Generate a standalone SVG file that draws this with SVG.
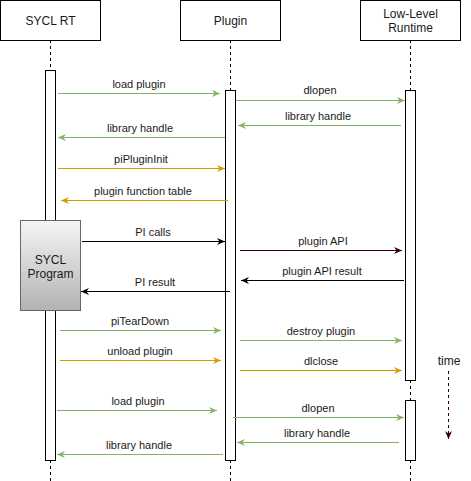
<svg xmlns="http://www.w3.org/2000/svg" width="471" height="481" viewBox="0 0 471 481">
<defs>
<linearGradient id="progGrad" x1="0" y1="0" x2="0" y2="1">
<stop offset="0" stop-color="#f5f5f5"/>
<stop offset="1" stop-color="#b3b3b3"/>
</linearGradient>
<marker id="ag" markerUnits="userSpaceOnUse" markerWidth="9" markerHeight="8" refX="8" refY="3.5" orient="auto"><path d="M0,0 L8,3.5 L0,7 L2.5,3.5 Z" fill="#82b366"/></marker>
<marker id="ao" markerUnits="userSpaceOnUse" markerWidth="9" markerHeight="8" refX="8" refY="3.5" orient="auto"><path d="M0,0 L8,3.5 L0,7 L2.5,3.5 Z" fill="#d79b00"/></marker>
<marker id="ak" markerUnits="userSpaceOnUse" markerWidth="9" markerHeight="8" refX="8" refY="3.5" orient="auto"><path d="M0,0 L8,3.5 L0,7 L2.5,3.5 Z" fill="#000000"/></marker>
<marker id="ar" markerUnits="userSpaceOnUse" markerWidth="9" markerHeight="8" refX="8" refY="3.5" orient="auto"><path d="M0,0 L8,3.5 L0,7 L2.5,3.5 Z" fill="#330000"/></marker>
</defs>
<style>
text{font-family:"Liberation Sans",Arial,sans-serif;fill:#1a1a1a;text-anchor:middle}
.h{font-size:12px}
.l{font-size:11px}
.box{fill:#ffffff;stroke:#000000;stroke-width:1}
.life{stroke:#000000;stroke-width:1;stroke-dasharray:3,3;fill:none}
.g{stroke:#82b366;stroke-width:1;fill:none;marker-end:url(#ag)}
.o{stroke:#d79b00;stroke-width:1;fill:none;marker-end:url(#ao)}
.k{stroke:#000000;stroke-width:1;fill:none;marker-end:url(#ak)}
.r{stroke:#330000;stroke-width:1;fill:none;marker-end:url(#ar)}
</style>
<rect width="471" height="481" fill="#ffffff"/>
<g id="sycl-rt">
<line class="life" x1="50.5" y1="40" x2="50.5" y2="70"/>
<line class="life" x1="50.5" y1="460" x2="50.5" y2="481"/>
<rect class="box" x="0.5" y="0.5" width="100" height="40"/>
<text class="h" x="50.5" y="25">SYCL RT</text>
<rect class="box" x="45.5" y="70.5" width="10" height="390"/>
</g>
<g id="plugin">
<line class="life" x1="230.5" y1="40" x2="230.5" y2="90"/>
<line class="life" x1="230.5" y1="460" x2="230.5" y2="481"/>
<rect class="box" x="180.5" y="0.5" width="100" height="40"/>
<text class="h" x="230.5" y="25">Plugin</text>
<rect class="box" x="225.5" y="90.5" width="10" height="370"/>
</g>
<g id="low-level-runtime">
<line class="life" x1="410.5" y1="40" x2="410.5" y2="90"/>
<line class="life" x1="410.5" y1="380" x2="410.5" y2="400"/>
<line class="life" x1="410.5" y1="460" x2="410.5" y2="481"/>
<rect class="box" x="360.5" y="0.5" width="100" height="40"/>
<text class="h" x="410.5" y="18">Low-Level</text>
<text class="h" x="410.5" y="32">Runtime</text>
<rect class="box" x="405.5" y="90.5" width="10" height="290"/>
<rect class="box" x="405.5" y="400.5" width="10" height="60"/>
</g>
<g id="sycl-program">
<rect x="20.5" y="220.5" width="60" height="90" fill="url(#progGrad)" stroke="#666666"/>
<text class="h" x="50.5" y="264">SYCL</text>
<text class="h" x="50.5" y="278">Program</text>
</g>
<g id="time">
<text class="h" x="449" y="365">time</text>
<line x1="448.5" y1="371" x2="448.5" y2="439" stroke="#330000" stroke-dasharray="3,3" marker-end="url(#ar)"/>
</g>
<g id="connectors">
<line class="g" x1="58" y1="93.5" x2="220" y2="93.5"/>
<text class="l" x="139" y="88">load plugin</text>
<line class="g" x1="236" y1="100.5" x2="405" y2="100.5"/>
<text class="l" x="320" y="94">dlopen</text>
<line class="g" x1="401" y1="125.5" x2="238" y2="125.5"/>
<text class="l" x="318" y="120">library handle</text>
<line class="g" x1="225" y1="137.5" x2="58" y2="137.5"/>
<text class="l" x="140" y="132">library handle</text>
<line class="o" x1="58" y1="168.5" x2="225" y2="168.5"/>
<text class="l" x="141" y="163">piPluginInit</text>
<line class="o" x1="228" y1="200.5" x2="61" y2="200.5"/>
<text class="l" x="143" y="195">plugin function table</text>
<line class="k" x1="82" y1="241.5" x2="225" y2="241.5"/>
<text class="l" x="153" y="236">PI calls</text>
<line class="r" x1="240" y1="250.5" x2="402" y2="250.5"/>
<text class="l" x="323" y="245">plugin API</text>
<line class="k" x1="404" y1="280.5" x2="241" y2="280.5"/>
<text class="l" x="322" y="275">plugin API result</text>
<line class="k" x1="230" y1="291.5" x2="81" y2="291.5"/>
<text class="l" x="155" y="286">PI result</text>
<line class="g" x1="60" y1="330.5" x2="221" y2="330.5"/>
<text class="l" x="140" y="325">piTearDown</text>
<line class="g" x1="240" y1="340.5" x2="402" y2="340.5"/>
<text class="l" x="321" y="335">destroy plugin</text>
<line class="o" x1="60" y1="360.5" x2="221" y2="360.5"/>
<text class="l" x="140" y="355">unload plugin</text>
<line class="o" x1="240" y1="370.5" x2="402" y2="370.5"/>
<text class="l" x="321" y="365">dlclose</text>
<line class="g" x1="57" y1="410.5" x2="217" y2="410.5"/>
<text class="l" x="138" y="405">load plugin</text>
<line class="g" x1="233" y1="417.5" x2="404" y2="417.5"/>
<text class="l" x="318" y="412">dlopen</text>
<line class="g" x1="399" y1="442.5" x2="237" y2="442.5"/>
<text class="l" x="317" y="437">library handle</text>
<line class="g" x1="223" y1="454.5" x2="57" y2="454.5"/>
<text class="l" x="139" y="449">library handle</text>
</g>
</svg>
